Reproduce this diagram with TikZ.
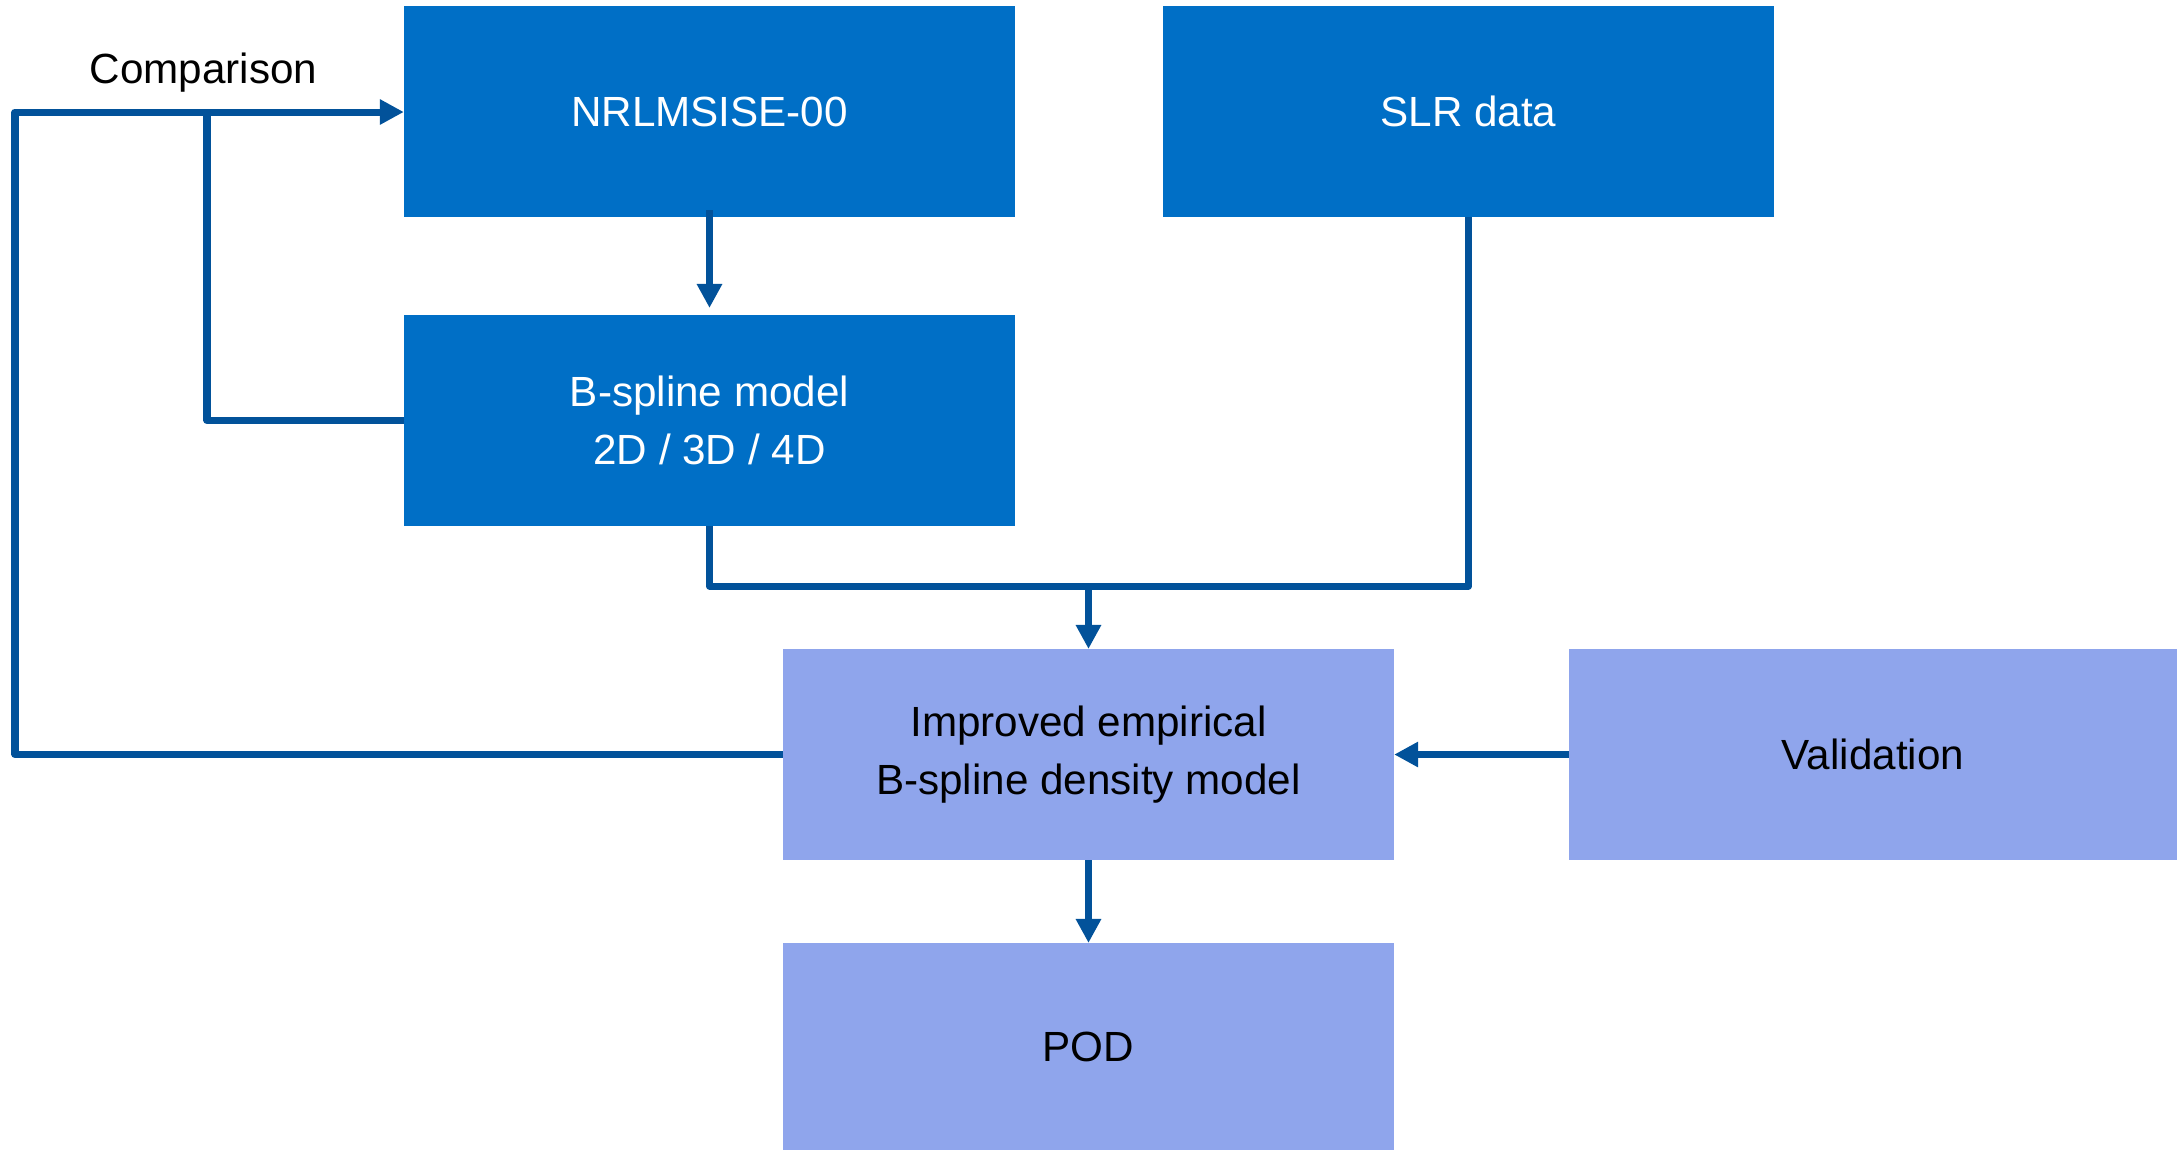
\documentclass[tikz,border=0pt]{standalone}
\usepackage{fontspec}
\setmainfont{Liberation Sans}
\usetikzlibrary{arrows.meta}
\definecolor{darkbox}{RGB}{0,111,198}
\definecolor{lightbox}{RGB}{143,165,236}
\definecolor{wire}{RGB}{2,82,154}
\tikzset{
  blk/.style={rectangle, inner sep=0pt, outer sep=0pt, minimum width=6.11cm, minimum height=2.11cm,
    align=center, font=\fontsize{12}{16.5}\selectfont},
  darkblk/.style={blk, fill=darkbox, text=white},
  lightblk/.style={blk, fill=lightbox, text=black},
  wireline/.style={draw=wire, line width=0.07cm, line join=round},
  wirearrow/.style={wireline, -{Triangle[length=0.24cm,width=0.24cm]}}
}
\begin{document}
\begin{tikzpicture}[x=0.01cm, y=0.01cm]
\useasboundingbox (0,0) rectangle (2177,-1150);

% boxes
\node[darkblk] (nrl) at (709.5,-111.5) {NRLMSISE-00};
\node[darkblk] (slr) at (1468.5,-111.5) {SLR data};
\node[darkblk] (bsp) at (709.5,-420.5) {B-spline model\\2D / 3D / 4D};
\node[lightblk] (imp) at (1088.5,-754.5) {Improved empirical\\B-spline density model};
\node[lightblk, minimum width=6.08cm] (val) at (1873,-754.5) {Validation};
\node[lightblk, minimum height=2.07cm] (pod) at (1088.5,-1046.5) {POD};

% label
\node[font=\fontsize{12}{16.5}\selectfont, anchor=base] (cmp) at (203.5,-83) {Comparison};

% junction points
\coordinate (merge) at (1088.5,-586);
\coordinate (topleft) at (15,-112);
\coordinate (branch) at (207,-112);

% connectors
\draw[wirearrow, shorten >=0.07cm] ([yshift=0.07cm]nrl.south) -- (bsp.north);
\draw[wireline] (bsp.south) |- (merge);
\draw[wireline] (slr.south) |- (merge);
\draw[wirearrow] (merge) -- (imp.north);
\draw[wirearrow] (val.west) -- (imp.east);
\draw[wirearrow] (imp.south) -- (pod.north);
\draw[wirearrow] (imp.west) -| (topleft) -- (topleft -| nrl.west);
\draw[wireline] (bsp.west) -| (branch);
\end{tikzpicture}
\end{document}
